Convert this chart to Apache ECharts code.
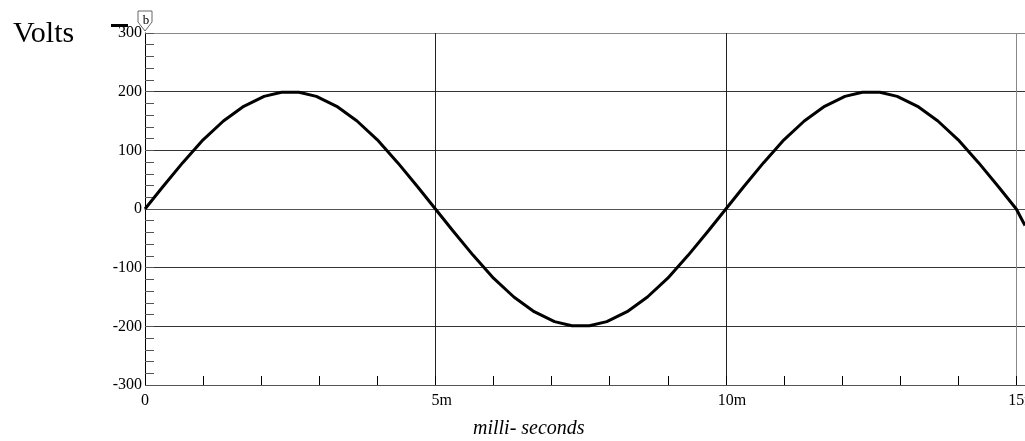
<!DOCTYPE html>
<html>
<head>
<meta charset="utf-8">
<script src="https://cdn.jsdelivr.net/npm/echarts@6/dist/echarts.min.js"></script>
<style>
  html, body { margin: 0; padding: 0; background: #fff; }
  #chart { width: 1025px; height: 441px; }
</style>
</head>
<body>
<div id="chart"></div>
<script>
// time in ms, voltage
var times = [0, 0.3, 0.65, 1.0, 1.35, 1.7, 2.05, 2.35, 2.65, 2.95, 3.3, 3.65, 4.0, 4.35, 4.7,
    5.0, 5.3, 5.65, 6.0, 6.35, 6.7, 7.05, 7.35, 7.65, 7.95, 8.3, 8.65, 9.0, 9.35, 9.7,
    10.0, 10.3, 10.65, 11.0, 11.35, 11.7, 12.05, 12.35, 12.65, 12.95, 13.3, 13.65, 14.0, 14.35, 14.7,
    15.0, 15.15];
var volts = [0, 37, 79, 118, 150, 175, 192, 199, 199, 192, 175, 150, 118, 79, 37,
    0, -37, -79, -118, -150, -175, -192, -199, -199, -192, -175, -150, -118, -79, -37,
    0, 37, 79, 118, 150, 175, 192, 199, 199, 192, 175, 150, 118, 79, 37,
    0, -28];
var xMajorTicks = [0, 5, 10, 15];
var yTitle = 'Volts';
var xTitle = 'milli- seconds';
var traceLabel = 'b';

var serif = '"Liberation Serif", "DejaVu Serif", serif';
var myChart = echarts.init(document.getElementById('chart'));

var points = times.map(function (t, i) { return [t, volts[i]]; });

var option = {
    animation: false,
    backgroundColor: '#fff',
    grid: { left: 145, right: 0, top: 33, bottom: 56, outerBoundsMode: 'none', containLabel: false },
    xAxis: [
        {
            type: 'value',
            min: 0,
            max: 15.15,
            interval: 5,
            axisLine: { show: true, lineStyle: { color: '#555', width: 1 } },
            axisTick: { show: false },
            splitLine: {
                show: true,
                lineStyle: { color: ['#222', '#222', '#222', '#888', '#888'], width: 1 }
            },
            axisLabel: {
                color: '#000',
                fontFamily: serif,
                fontSize: 16,
                margin: 8,
                hideOverlap: false,
                formatter: function (v) {
                    if (xMajorTicks.indexOf(v) < 0) return '';
                    if (v === 0) return '0';
                    return '{h|m}' + v + 'm';
                },
                rich: {
                    h: { color: 'rgba(0,0,0,0)', fontFamily: serif, fontSize: 16 }
                }
            }
        },
        {
            // minor ticks every 1 ms
            type: 'value',
            gridIndex: 0,
            position: 'bottom',
            min: 0,
            max: 15.15,
            interval: 1,
            axisLine: { show: false },
            axisLabel: { show: false },
            splitLine: { show: false },
            axisTick: { show: true, inside: true, length: 9, lineStyle: { color: '#000', width: 1 } }
        }
    ],
    yAxis: {
        type: 'value',
        min: -300,
        max: 300,
        interval: 100,
        axisLine: { show: true, lineStyle: { color: '#000', width: 1 } },
        axisTick: { show: true, inside: true, length: 9, lineStyle: { color: '#555' } },
        minorTick: { show: true, splitNumber: 5, length: 9, lineStyle: { color: '#555' } },
        splitLine: {
            show: true,
            lineStyle: { color: ['#555', '#333', '#333', '#333', '#333', '#333', '#888'], width: 1 }
        },
        axisLabel: {
            color: '#000',
            fontFamily: serif,
            fontSize: 16,
            margin: 3
        }
    },
    series: [
        {
            type: 'line',
            xAxisIndex: 0,
            data: points,
            showSymbol: false,
            lineStyle: { color: '#000', width: 3 },
            z: 5
        }
    ],
    graphic: [
        {
            type: 'text',
            left: 13,
            top: 19,
            style: { text: yTitle, font: '30px ' + serif, fill: '#000' }
        },
        {
            type: 'rect',
            shape: { x: 111, y: 24, width: 17, height: 3 },
            style: { fill: '#000' }
        },
        {
            type: 'polygon',
            shape: { points: [[138, 11], [152, 11], [152, 22], [145, 31], [138, 22]] },
            style: { fill: '#fff', stroke: '#666', lineWidth: 1 },
            z: 10
        },
        {
            type: 'text',
            x: 146,
            y: 14,
            style: { text: traceLabel, font: '13px ' + serif, fill: '#000', align: 'center' },
            z: 11
        },
        {
            type: 'text',
            left: 473,
            top: 419,
            style: { text: xTitle, font: 'italic 20px ' + serif, fill: '#000' }
        }
    ]
};

myChart.setOption(option, true);
</script>
</body>
</html>
